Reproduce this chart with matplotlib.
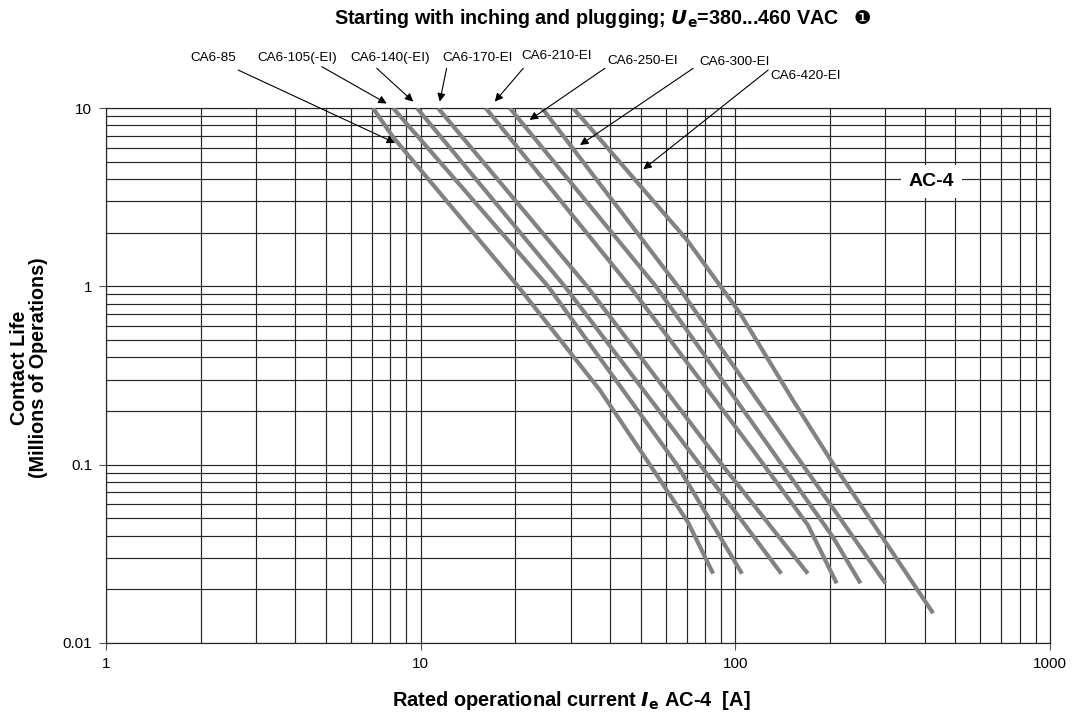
import matplotlib
matplotlib.use("Agg")
import matplotlib.pyplot as plt
import numpy as np

plt.rcParams['font.family'] = ['Liberation Sans', 'DejaVu Sans']

# ---- data (current in A, contact life in millions of operations) ----
labels = ["CA6-85", "CA6-105(-EI)", "CA6-140(-EI)", "CA6-170-EI",
          "CA6-210-EI", "CA6-250-EI", "CA6-300-EI", "CA6-420-EI"]

c85_x = [7.05, 8.17, 20.4, 37.1, 53.5, 70.7, 85]
c85_y = [10, 6.87, 1.0, 0.262, 0.1, 0.0476, 0.0245]
c105_x = [8.17, 25.4, 65.2, 105]
c105_y = [10, 1.0, 0.1, 0.0245]
c140_x = [9.73, 28.7, 77.2, 140]
c140_y = [10, 1.0, 0.1, 0.0245]
c170_x = [11.35, 33.8, 90.7, 170]
c170_y = [10, 1.0, 0.1, 0.0245]
c210_x = [16.1, 46.2, 113.7, 170.1, 210]
c210_y = [10, 1.0, 0.1208, 0.0458, 0.0216]
c250_x = [19.2, 55.9, 140.6, 204.2, 250]
c250_y = [10, 1.0, 0.1, 0.0393, 0.0216]
c300_x = [24.3, 65.7, 163.6, 300]
c300_y = [10, 1.0, 0.1, 0.0216]
c420_x = [30.5, 70.2, 103.4, 152.4, 202.8, 425]
c420_y = [10, 1.82, 0.708, 0.230, 0.1035, 0.0147]

curves_x = [c85_x, c105_x, c140_x, c170_x, c210_x, c250_x, c300_x, c420_x]
curves_y = [c85_y, c105_y, c140_y, c170_y, c210_y, c250_y, c300_y, c420_y]

# label text anchor, arrow start, arrow tip (data coords)
label_pos = [(2.19, 19.05), (4.05, 19.05), (7.99, 19.05), (15.2, 19.05),
             (27.1, 19.57), (50.9, 18.35), (99.7, 18.1), (167.6, 15.1)]
arrow_start = [(2.63, 16.33), (4.85, 17.05), (7.25, 16.70), (12.09, 16.70),
               (21.18, 16.70), (38.5, 16.70), (73.5, 16.70), (127.2, 16.33)]
arrow_tip = [(8.29, 6.37), (7.80, 10.6), (9.47, 10.86), (11.5, 10.86),
             (17.2, 10.86), (22.2, 8.57), (32.1, 6.20), (51.0, 4.53)]

x_ticks = [1, 10, 100, 1000]
x_ticklabels = ["1", "10", "100", "1000"]
y_ticks = [0.01, 0.1, 1, 10]
y_ticklabels = ["0.01", "0.1", "1", "10"]

# ---- figure ----
fig = plt.figure(figsize=(10.79, 7.13), dpi=100)
ax = fig.add_axes([106/1079, 1 - 643/713, (1050-106)/1079, (643-108)/713])
ax.set_xscale('log')
ax.set_yscale('log')
ax.set_xlim(1, 1000)
ax.set_ylim(0.01, 10)

grid_color = '#262626'
for dec in [1, 10, 100]:
    for m in range(1, 10):
        ax.axvline(dec * m, color=grid_color, lw=0.85, zorder=1)
ax.axvline(1000, color=grid_color, lw=0.85, zorder=1)
for dec in [0.01, 0.1, 1]:
    for m in range(1, 10):
        ax.axhline(dec * m, color=grid_color, lw=0.85, zorder=1)
ax.axhline(10, color=grid_color, lw=0.85, zorder=1)

for s in ax.spines.values():
    s.set_color(grid_color)
    s.set_linewidth(0.85)

for cx, cy in zip(curves_x, curves_y):
    ax.plot(cx, cy, color='#828282', lw=3.0, solid_capstyle='butt',
            solid_joinstyle='round', zorder=3)

ax.set_xticks(x_ticks)
ax.set_xticklabels(x_ticklabels)
ax.set_yticks(y_ticks)
ax.set_yticklabels(y_ticklabels)
ax.minorticks_off()
ax.tick_params(axis='both', which='major', direction='out', length=5,
               width=0.8, color='#555555', labelsize=11, pad=5)

for lab, tp, st, tip in zip(labels, label_pos, arrow_start, arrow_tip):
    ax.text(tp[0], tp[1], lab, fontsize=9.7, ha='center', va='center',
            clip_on=False)
    ax.annotate('', xy=tip, xytext=st, xycoords='data', textcoords='data',
                arrowprops=dict(arrowstyle='-|>', color='black', lw=0.8,
                                mutation_scale=12, shrinkA=0, shrinkB=0),
                annotation_clip=False)

ax.text(420.4, 3.86, "AC-4", fontsize=14, fontweight='bold', ha='center',
        va='center', zorder=5,
        bbox=dict(boxstyle='square,pad=0.42', facecolor='white',
                  edgecolor='none'))

fig.text(334/1079, 1 - 19/713,
         r"Starting with inching and plugging; $\mathbfit{U}_\mathbf{e}$=380...460 VAC",
         ha='left', va='center', fontsize=14.2, fontweight='bold')
fig.text(862/1079, 1 - 19/713, "\u2776", ha='center', va='center',
         fontsize=14, family='DejaVu Sans')

fig.text(571/1079, 1 - 700/713,
         r"Rated operational current $\mathbfit{I}_\mathbf{e}$ AC-4  [A]",
         ha='center', va='center', fontsize=14.4, fontweight='bold')
fig.text(29/1079, 1 - 368/713, "Contact Life\n(Millions of Operations)",
         ha='center', va='center', rotation=90, fontsize=14.2,
         fontweight='bold', linespacing=1.0)

fig.savefig("out.png", dpi=100)
